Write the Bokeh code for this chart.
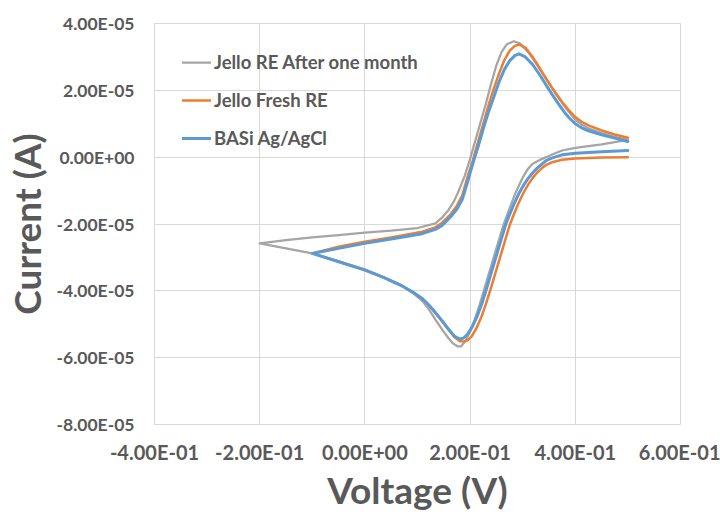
from bokeh.plotting import figure
from bokeh.models import (FixedTicker, CustomJSTickFormatter, Legend, LegendItem,
                          Range1d)
from bokeh.embed import file_html
from bokeh.resources import INLINE

# ---------------- data ----------------
x_ticks = [-0.4, -0.2, 0.0, 0.2, 0.4, 0.6]
y_ticks = [-8e-5, -6e-5, -4e-5, -2e-5, 0.0, 2e-5, 4e-5]
x_title = "Voltage (V)"
y_title = "Current (A)"

series_names = ["Jello RE After one month", "Jello Fresh RE", "BASi Ag/AgCl"]

# Jello RE After one month (grey): reverse sweep 0.5 -> -0.2, then forward -0.2 -> 0.5
gray_v = [0.5, 0.45, 0.4, 0.375, 0.356, 0.345, 0.337, 0.328, 0.319, 0.31, 0.301,
          0.292, 0.285, 0.28, 0.272, 0.264, 0.254, 0.244, 0.235, 0.227, 0.218, 0.209,
          0.2, 0.191, 0.183, 0.176, 0.168, 0.159, 0.147, 0.134, 0.122, 0.109, 0.09,
          0.07, 0.035, 0.0, -0.05, -0.1, -0.15, -0.2,
          -0.15, -0.1, -0.05, 0.0, 0.05, 0.1, 0.134, 0.147, 0.159, 0.17, 0.178, 0.19,
          0.2, 0.21, 0.22, 0.23, 0.24, 0.25, 0.26, 0.27, 0.283, 0.295, 0.31, 0.325,
          0.34, 0.355, 0.366, 0.376, 0.388, 0.4, 0.412, 0.425, 0.45, 0.475, 0.5]
gray_i = [0.52e-5, 0.38e-5, 0.28e-5, 0.2e-5, 0.08e-5, 0.0, -0.05e-5, -0.12e-5,
          -0.2e-5, -0.35e-5, -0.58e-5, -0.88e-5, -1.12e-5, -1.33e-5, -1.66e-5,
          -2.0e-5, -2.52e-5, -3.05e-5, -3.52e-5, -3.95e-5, -4.42e-5, -4.85e-5,
          -5.22e-5, -5.5e-5, -5.66e-5, -5.66e-5, -5.58e-5, -5.42e-5, -5.16e-5,
          -4.86e-5, -4.56e-5, -4.3e-5, -4.05e-5, -3.84e-5, -3.59e-5, -3.37e-5,
          -3.12e-5, -2.88e-5, -2.73e-5, -2.58e-5,
          -2.48e-5, -2.4e-5, -2.33e-5, -2.26e-5, -2.2e-5, -2.12e-5, -1.98e-5, -1.8e-5,
          -1.58e-5, -1.3e-5, -1.02e-5, -0.55e-5, -0.05e-5, 0.5e-5, 1.05e-5, 1.6e-5,
          2.2e-5, 2.75e-5, 3.15e-5, 3.38e-5, 3.47e-5, 3.4e-5, 3.15e-5, 2.82e-5,
          2.45e-5, 2.08e-5, 1.82e-5, 1.6e-5, 1.35e-5, 1.12e-5, 0.98e-5, 0.86e-5,
          0.72e-5, 0.61e-5, 0.52e-5]

# Jello Fresh RE (orange): reverse sweep 0.5 -> -0.1, then forward -0.1 -> 0.5
orange_v = [0.5, 0.45, 0.4, 0.375, 0.356, 0.345, 0.337, 0.328, 0.319, 0.31, 0.301,
            0.292, 0.284, 0.276, 0.266, 0.256, 0.247, 0.239, 0.23, 0.221, 0.212,
            0.203, 0.195, 0.188, 0.18, 0.17, 0.159, 0.147, 0.134, 0.122, 0.109, 0.09,
            0.07, 0.035, 0.0, -0.05, -0.1,
            -0.05, 0.0, 0.05, 0.109, 0.134, 0.147, 0.163, 0.175, 0.185, 0.195, 0.205,
            0.215, 0.225, 0.235, 0.245, 0.255, 0.265, 0.275, 0.285, 0.294, 0.305,
            0.318, 0.33, 0.342, 0.355, 0.366, 0.376, 0.388, 0.4, 0.412, 0.425, 0.45,
            0.475, 0.5]
orange_i = [0.0, -0.01e-5, -0.04e-5, -0.08e-5, -0.15e-5, -0.23e-5, -0.32e-5,
            -0.45e-5, -0.62e-5, -0.83e-5, -1.08e-5, -1.38e-5, -1.68e-5, -2.0e-5,
            -2.52e-5, -3.05e-5, -3.52e-5, -3.95e-5, -4.4e-5, -4.8e-5, -5.12e-5,
            -5.36e-5, -5.48e-5, -5.52e-5, -5.5e-5, -5.38e-5, -5.16e-5, -4.92e-5,
            -4.66e-5, -4.43e-5, -4.23e-5, -4.03e-5, -3.84e-5, -3.59e-5, -3.37e-5,
            -3.12e-5, -2.88e-5,
            -2.68e-5, -2.53e-5, -2.4e-5, -2.23e-5, -2.1e-5, -1.96e-5, -1.71e-5,
            -1.45e-5, -1.15e-5, -0.6e-5, -0.1e-5, 0.45e-5, 1.0e-5, 1.55e-5, 2.05e-5,
            2.5e-5, 2.9e-5, 3.18e-5, 3.33e-5, 3.37e-5, 3.28e-5, 3.02e-5, 2.72e-5,
            2.42e-5, 2.1e-5, 1.85e-5, 1.63e-5, 1.4e-5, 1.2e-5, 1.06e-5, 0.95e-5,
            0.8e-5, 0.68e-5, 0.58e-5]

# BASi Ag/AgCl (blue): reverse sweep 0.5 -> -0.1, then forward -0.1 -> 0.5
blue_v = [0.5, 0.45, 0.4, 0.375, 0.356, 0.345, 0.337, 0.328, 0.32, 0.311, 0.302,
          0.293, 0.284, 0.276, 0.268, 0.258, 0.248, 0.239, 0.231, 0.222, 0.213,
          0.204, 0.195, 0.187, 0.18, 0.17, 0.159, 0.147, 0.134, 0.122, 0.109, 0.09,
          0.07, 0.035, 0.0, -0.05, -0.1,
          -0.05, 0.0, 0.05, 0.109, 0.134, 0.147, 0.165, 0.175, 0.185, 0.195, 0.205,
          0.215, 0.225, 0.235, 0.245, 0.255, 0.265, 0.275, 0.285, 0.293, 0.305, 0.32,
          0.335, 0.35, 0.36, 0.37, 0.38, 0.39, 0.4, 0.412, 0.425, 0.45, 0.475, 0.5]
blue_i = [0.2e-5, 0.16e-5, 0.12e-5, 0.07e-5, -0.02e-5, -0.1e-5, -0.2e-5, -0.32e-5,
          -0.45e-5, -0.62e-5, -0.83e-5, -1.08e-5, -1.38e-5, -1.68e-5, -2.0e-5,
          -2.52e-5, -3.05e-5, -3.52e-5, -3.95e-5, -4.4e-5, -4.78e-5, -5.08e-5,
          -5.3e-5, -5.42e-5, -5.44e-5, -5.35e-5, -5.15e-5, -4.9e-5, -4.65e-5,
          -4.43e-5, -4.23e-5, -4.03e-5, -3.85e-5, -3.6e-5, -3.38e-5, -3.13e-5,
          -2.88e-5,
          -2.73e-5, -2.58e-5, -2.45e-5, -2.29e-5, -2.16e-5, -2.04e-5, -1.75e-5,
          -1.55e-5, -1.27e-5, -0.75e-5, -0.2e-5, 0.3e-5, 0.85e-5, 1.35e-5, 1.8e-5,
          2.25e-5, 2.62e-5, 2.88e-5, 3.04e-5, 3.09e-5, 3.0e-5, 2.75e-5, 2.4e-5,
          2.02e-5, 1.78e-5, 1.55e-5, 1.33e-5, 1.15e-5, 1.0e-5, 0.88e-5, 0.79e-5,
          0.67e-5, 0.57e-5, 0.47e-5]

colors = ["#A5A5A5", "#ED7D31", "#5B9BD5"]
widths = [2.25, 2.5, 3.0]

# ---------------- figure ----------------
TEXT = "#595959"
GRID = "#D9D9D9"
FONT = "Lato"

p = figure(width=720, height=515, output_backend="svg", toolbar_location=None,
           x_range=Range1d(-0.4, 0.6), y_range=Range1d(-8e-5, 4e-5),
           min_border_left=154, min_border_right=40, min_border_top=23,
           min_border_bottom=91)
p.outline_line_color = GRID
p.background_fill_color = "white"
p.border_fill_color = "white"

fmt = CustomJSTickFormatter(code="""
const s = tick.toExponential(2);
const k = s.indexOf('e');
const m = s.slice(0, k);
const sign = s.charAt(k + 1);
let d = s.slice(k + 2);
if (d.length < 2) { d = '0' + d; }
return m + 'E' + sign + d;
""")

p.xaxis.ticker = FixedTicker(ticks=x_ticks)
p.yaxis.ticker = FixedTicker(ticks=y_ticks)
for ax in (p.xaxis[0], p.yaxis[0]):
    ax.formatter = fmt
    ax.major_tick_line_color = None
    ax.minor_tick_line_color = None
    ax.major_tick_out = 0
    ax.major_tick_in = 0
    ax.minor_tick_out = 0
    ax.minor_tick_in = 0
    ax.axis_line_color = GRID
    ax.major_label_text_font = FONT
    ax.major_label_text_font_style = "bold"
    ax.major_label_text_color = TEXT
    ax.axis_label_text_font = FONT
    ax.axis_label_text_font_style = "bold"
    ax.axis_label_text_font_size = "37px"
    ax.axis_label_text_color = TEXT

p.xaxis.major_label_text_font_size = "20px"
p.yaxis.major_label_text_font_size = "17.5px"
p.xaxis.major_label_standoff = 15
p.yaxis.major_label_standoff = 20
p.xaxis.axis_label = x_title
p.yaxis.axis_label = y_title
p.xaxis.axis_label_standoff = 0
p.yaxis.axis_label_standoff = 4

p.xgrid.ticker = FixedTicker(ticks=x_ticks)
p.ygrid.ticker = FixedTicker(ticks=y_ticks)
p.grid.grid_line_color = GRID
p.grid.grid_line_width = 1

renderers = []
for v, i, c, w in zip([gray_v, orange_v, blue_v], [gray_i, orange_i, blue_i],
                      colors, widths):
    r = p.line(v, i, line_color=c, line_width=w, line_join="round", line_cap="round")
    renderers.append(r)

legend = Legend(items=[LegendItem(label=n, renderers=[r])
                       for n, r in zip(series_names, renderers)],
                location="top_left", margin=0, padding=28, spacing=16,
                glyph_width=29, glyph_height=20, label_height=20, label_standoff=3,
                label_text_font=FONT, label_text_font_style="bold",
                label_text_font_size="18.5px", label_text_color=TEXT,
                background_fill_alpha=0, border_line_alpha=0)
p.add_layout(legend)

open("out.html", "w").write(file_html(p, INLINE))
